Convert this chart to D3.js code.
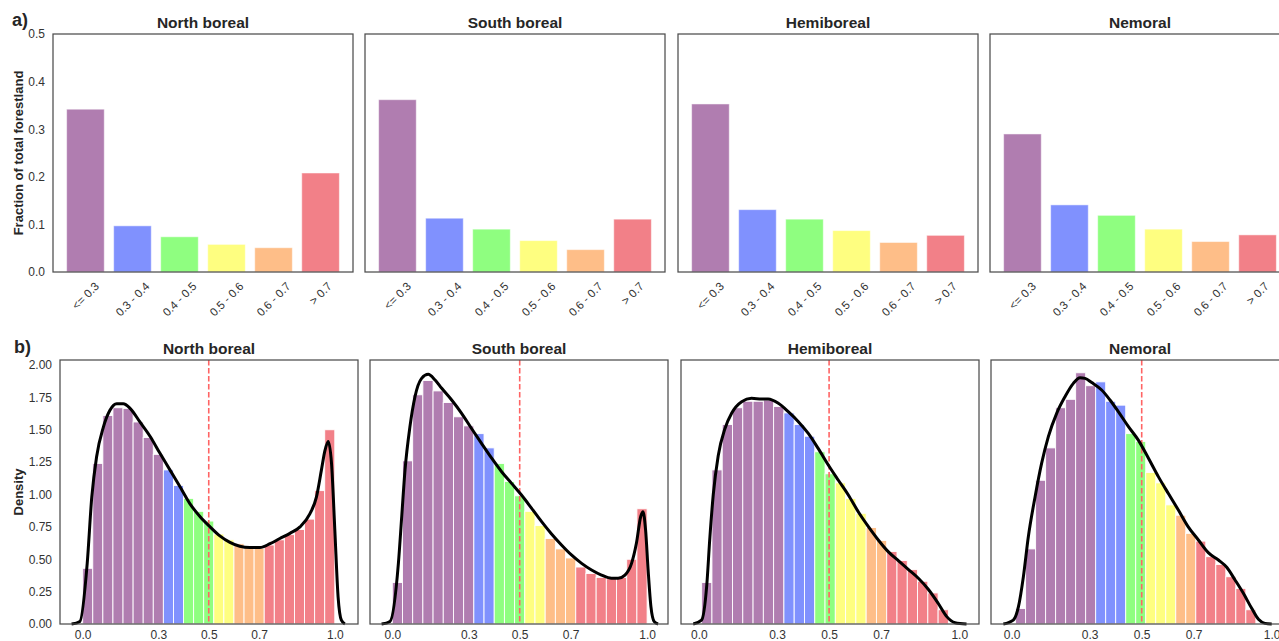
<!DOCTYPE html>
<html>
<head>
<meta charset="utf-8">
<script src="https://cdn.jsdelivr.net/npm/d3@7/dist/d3.min.js"></script>
<style>
  body { margin: 0; background: #fff; }
  text { font-family: "Liberation Sans", Arial, sans-serif; fill: #262626; }
</style>
</head>
<body>
<script>
// ---- data ----
const regions = ['North boreal', 'South boreal', 'Hemiboreal', 'Nemoral'];
const classes = ['<= 0.3', '0.3 - 0.4', '0.4 - 0.5', '0.5 - 0.6', '0.6 - 0.7', '> 0.7'];
const classColors = ['#b07db0', '#8091fe', '#8ffe80', '#fefe80', '#febe88', '#f28088'];

// a) fraction of total forestland per class
const fracNB = [0.342, 0.097, 0.074, 0.058, 0.051, 0.208];
const fracSB = [0.362, 0.113, 0.090, 0.066, 0.047, 0.111];
const fracHB = [0.353, 0.131, 0.111, 0.087, 0.062, 0.077];
const fracNM = [0.290, 0.141, 0.119, 0.090, 0.064, 0.078];

// b) histogram densities (bin start, bin width, heights, bins per class)
const binStart = [0.0, 0.0, 0.0104, 0.015];
const binWidth = [0.04, 0.04, 0.0395, 0.0385];
const histNB = [0.43, 1.24, 1.61, 1.67, 1.665, 1.56, 1.44, 1.31, 1.19, 1.07, 0.97, 0.87, 0.795,
                0.695, 0.65, 0.62, 0.59, 0.585, 0.61, 0.65, 0.69, 0.73, 0.81, 1.03, 1.50];
const histSB = [0.32, 1.26, 1.77, 1.88, 1.80, 1.71, 1.60, 1.53, 1.47, 1.36, 1.24, 1.10, 0.99,
                0.87, 0.76, 0.66, 0.58, 0.51, 0.44, 0.39, 0.36, 0.35, 0.36, 0.50, 0.89];
const histHB = [0.32, 1.19, 1.54, 1.67, 1.72, 1.72, 1.73, 1.68, 1.63, 1.54, 1.45, 1.33, 1.16,
                1.09, 0.97, 0.855, 0.745, 0.645, 0.56, 0.49, 0.42, 0.33, 0.24, 0.11];
const histNM = [0.12, 0.58, 1.11, 1.36, 1.67, 1.735, 1.94, 1.84, 1.87, 1.72, 1.69, 1.47, 1.41,
                1.17, 1.09, 0.92, 0.84, 0.70, 0.64, 0.52, 0.46, 0.365, 0.275, 0.11];
const binsPerClassNB = [8, 2, 3, 2, 3, 7];
const binsPerClassSB = [8, 2, 3, 2, 3, 7];
const binsPerClassHB = [8, 3, 2, 3, 2, 6];
const binsPerClassNM = [8, 3, 2, 3, 2, 6];

// b) kernel density curves [x, density]
const kdeNB = [[-0.044, 0], [-0.011, 0.02], [0.018, 0.47], [0.036, 0.98], [0.055, 1.29], [0.082, 1.52],
  [0.108, 1.65], [0.135, 1.70], [0.161, 1.70], [0.188, 1.665], [0.227, 1.56], [0.267, 1.45],
  [0.306, 1.32], [0.346, 1.19], [0.386, 1.06], [0.425, 0.93], [0.465, 0.83], [0.505, 0.75],
  [0.544, 0.68], [0.584, 0.63], [0.623, 0.60], [0.663, 0.59], [0.703, 0.59], [0.743, 0.62],
  [0.782, 0.66], [0.822, 0.70], [0.862, 0.75], [0.901, 0.85], [0.927, 0.98], [0.947, 1.19],
  [0.961, 1.34], [0.974, 1.41], [0.987, 1.24], [1.0, 0.73], [1.013, 0.21], [1.026, 0.03], [1.04, 0]];
const kdeSB = [[-0.042, 0], [-0.009, 0.02], [0.024, 0.47], [0.037, 0.83], [0.050, 1.19], [0.069, 1.52],
  [0.089, 1.755], [0.115, 1.897], [0.141, 1.928], [0.168, 1.884], [0.194, 1.82], [0.233, 1.73],
  [0.272, 1.627], [0.311, 1.51], [0.350, 1.395], [0.390, 1.28], [0.429, 1.176], [0.468, 1.086],
  [0.507, 0.996], [0.547, 0.893], [0.586, 0.79], [0.625, 0.695], [0.664, 0.61], [0.703, 0.533],
  [0.743, 0.468], [0.782, 0.417], [0.821, 0.378], [0.860, 0.353], [0.886, 0.353], [0.913, 0.378],
  [0.939, 0.468], [0.958, 0.623], [0.975, 0.83], [0.984, 0.867], [0.994, 0.726], [1.004, 0.417],
  [1.015, 0.134], [1.028, 0.018], [1.043, 0]];
const kdeHB = [[-0.022, 0], [0.010, 0.03], [0.030, 0.30], [0.042, 0.67], [0.055, 1.00], [0.074, 1.30],
  [0.100, 1.51], [0.126, 1.63], [0.164, 1.717], [0.202, 1.743], [0.241, 1.737], [0.266, 1.737],
  [0.305, 1.704], [0.343, 1.64], [0.382, 1.5625], [0.420, 1.472], [0.458, 1.356], [0.497, 1.228],
  [0.535, 1.112], [0.574, 0.996], [0.612, 0.867], [0.651, 0.752], [0.689, 0.649], [0.727, 0.559],
  [0.766, 0.489], [0.804, 0.422], [0.843, 0.353], [0.881, 0.268], [0.919, 0.16], [0.952, 0.057],
  [0.984, 0.01], [1.028, 0]];
const kdeNM = [[-0.032, 0], [0.006, 0.03], [0.026, 0.134], [0.045, 0.366], [0.064, 0.674], [0.090, 0.983],
  [0.115, 1.24], [0.141, 1.447], [0.173, 1.627], [0.205, 1.755], [0.237, 1.858], [0.263, 1.902],
  [0.282, 1.897], [0.308, 1.864], [0.346, 1.807], [0.378, 1.73], [0.410, 1.64], [0.449, 1.524],
  [0.487, 1.42], [0.526, 1.28], [0.564, 1.138], [0.602, 1.009], [0.641, 0.88], [0.679, 0.75],
  [0.718, 0.649], [0.756, 0.551], [0.795, 0.494], [0.827, 0.438], [0.859, 0.34], [0.891, 0.237],
  [0.923, 0.121], [0.949, 0.036], [0.974, 0.005], [1.0, 0]];

const xDomains = [[-0.090, 1.092], [-0.0875, 1.082], [-0.069, 1.076], [-0.0796, 1.0665]];
const densityTicks = [0, 0.3, 0.5, 0.7, 1.0];
const threshold = 0.5;

const fractions = [fracNB, fracSB, fracHB, fracNM];
const hists = [histNB, histSB, histHB, histNM];
const binsPerClass = [binsPerClassNB, binsPerClassSB, binsPerClassHB, binsPerClassNM];
const kdes = [kdeNB, kdeSB, kdeHB, kdeNM];

// ---- layout ----
const width = 1279, height = 641;
const topLeft = [53, 365, 678, 990], topW = 300, topTop = 34, topBottom = 272;
const botLeft = [60, 370, 681, 991], botW = 298, botTop = 360, botBottom = 624;
const tickFont = '12px';

const svg = d3.select('body').append('svg')
  .attr('width', width)
  .attr('height', height)
  .style('background', '#fff');

// panel letters + y titles
svg.append('text').attr('x', 12).attr('y', 26).style('font-size', '18px').style('font-weight', 'bold').text('a)');
svg.append('text').attr('x', 14).attr('y', 353).style('font-size', '18px').style('font-weight', 'bold').text('b)');

svg.append('text')
  .attr('transform', `translate(23,${(topTop + topBottom) / 2}) rotate(-90)`)
  .attr('text-anchor', 'middle')
  .style('font-size', '13px').style('font-weight', 'bold')
  .text('Fraction of total forestland');

svg.append('text')
  .attr('transform', `translate(23,${(botTop + botBottom) / 2}) rotate(-90)`)
  .attr('text-anchor', 'middle')
  .style('font-size', '13px').style('font-weight', 'bold')
  .text('Density');

// ---- a) bar panels ----
let yTop = d3.scaleLinear().domain([0, 0.5]).range([topBottom, topTop]);

regions.forEach((name, r) => {
  let x0 = topLeft[r];
  let xScale = d3.scaleBand()
    .domain(classes)
    .range([x0, x0 + topW])
    .paddingInner(0.2)
    .paddingOuter(0.29);

  let g = svg.append('g');

  g.selectAll('rect.bar')
    .data(fractions[r])
    .enter()
    .append('rect')
    .attr('class', 'bar')
    .attr('x', (d, i) => xScale(classes[i]))
    .attr('y', d => yTop(d))
    .attr('width', xScale.bandwidth())
    .attr('height', d => topBottom - yTop(d))
    .style('fill', (d, i) => classColors[i])
    .style('stroke', '#fff')
    .style('stroke-opacity', 0.5)
    .style('stroke-width', 1);

  g.append('rect')
    .attr('x', x0).attr('y', topTop)
    .attr('width', topW).attr('height', topBottom - topTop)
    .style('fill', 'none').style('stroke', '#4d4d4d').style('stroke-width', 1.25);

  g.append('text')
    .attr('x', x0 + topW / 2).attr('y', 28)
    .attr('text-anchor', 'middle')
    .style('font-size', '15.5px').style('font-weight', 'bold')
    .text(name);

  // rotated category labels
  classes.forEach(c => {
    let t = g.append('text')
      .attr('text-anchor', 'middle')
      .attr('dominant-baseline', 'central')
      .style('font-size', '11.5px')
      .style('fill', '#333')
      .text(c);
    let w = t.node().getComputedTextLength();
    let half = (w + 12) * Math.SQRT1_2 / 2;
    t.attr('transform', `translate(${xScale(c) + xScale.bandwidth() / 2},${280 + half}) rotate(-45)`);
  });

  if (r === 0) {
    let ax = g.append('g')
      .attr('transform', `translate(${x0},0)`)
      .call(d3.axisLeft(yTop).tickValues([0, 0.1, 0.2, 0.3, 0.4, 0.5]).tickFormat(d3.format('.1f')).tickSize(0).tickPadding(8));
    ax.select('.domain').remove();
    ax.selectAll('text').style('font-size', tickFont).style('fill', '#333').style('font-family', '"Liberation Sans", Arial, sans-serif');
  }
});

// ---- b) density panels ----
let yBot = d3.scaleLinear().domain([0, (botBottom - botTop) / 129.5]).range([botBottom, botTop]);

regions.forEach((name, r) => {
  let x0 = botLeft[r];
  let xScale = d3.scaleLinear().domain(xDomains[r]).range([x0, x0 + botW]);
  let g = svg.append('g');

  // class of every bin
  let binClass = [];
  binsPerClass[r].forEach((n, k) => { for (let j = 0; j < n; j++) binClass.push(k); });

  g.selectAll('rect.bin')
    .data(hists[r])
    .enter()
    .append('rect')
    .attr('class', 'bin')
    .attr('x', (d, i) => xScale(binStart[r] + i * binWidth[r]))
    .attr('y', d => yBot(d))
    .attr('width', xScale(binWidth[r]) - xScale(0))
    .attr('height', d => botBottom - yBot(d))
    .style('fill', (d, i) => classColors[binClass[i]])
    .style('stroke', '#fff')
    .style('stroke-width', 0.9);

  g.append('line')
    .attr('x1', xScale(threshold)).attr('x2', xScale(threshold))
    .attr('y1', botTop).attr('y2', botBottom)
    .style('stroke', '#ff6464').style('stroke-width', 1.6)
    .style('stroke-dasharray', '5.5,2.5');

  g.append('path')
    .datum(kdes[r])
    .attr('d', d3.line().x(d => xScale(d[0])).y(d => yBot(d[1])).curve(d3.curveMonotoneX))
    .style('fill', 'none').style('stroke', '#000').style('stroke-width', 3)
    .style('stroke-linejoin', 'round');

  g.append('rect')
    .attr('x', x0).attr('y', botTop)
    .attr('width', botW).attr('height', botBottom - botTop)
    .style('fill', 'none').style('stroke', '#4d4d4d').style('stroke-width', 1.25);

  g.append('text')
    .attr('x', x0 + botW / 2).attr('y', 354)
    .attr('text-anchor', 'middle')
    .style('font-size', '15.5px').style('font-weight', 'bold')
    .text(name);

  let xa = g.append('g')
    .attr('transform', `translate(0,${botBottom})`)
    .call(d3.axisBottom(xScale).tickValues(densityTicks).tickFormat(d3.format('.1f')).tickSize(0).tickPadding(6));
  xa.select('.domain').remove();
  xa.selectAll('text').style('font-size', tickFont).style('fill', '#333').style('font-family', '"Liberation Sans", Arial, sans-serif');

  if (r === 0) {
    let ya = g.append('g')
      .attr('transform', `translate(${x0},0)`)
      .call(d3.axisLeft(yBot).tickValues(d3.range(0, 2.01, 0.25)).tickFormat(d3.format('.2f')).tickSize(0).tickPadding(8));
    ya.select('.domain').remove();
    ya.selectAll('text').style('font-size', tickFont).style('fill', '#333').style('font-family', '"Liberation Sans", Arial, sans-serif');
  }
});
</script>
</body>
</html>
